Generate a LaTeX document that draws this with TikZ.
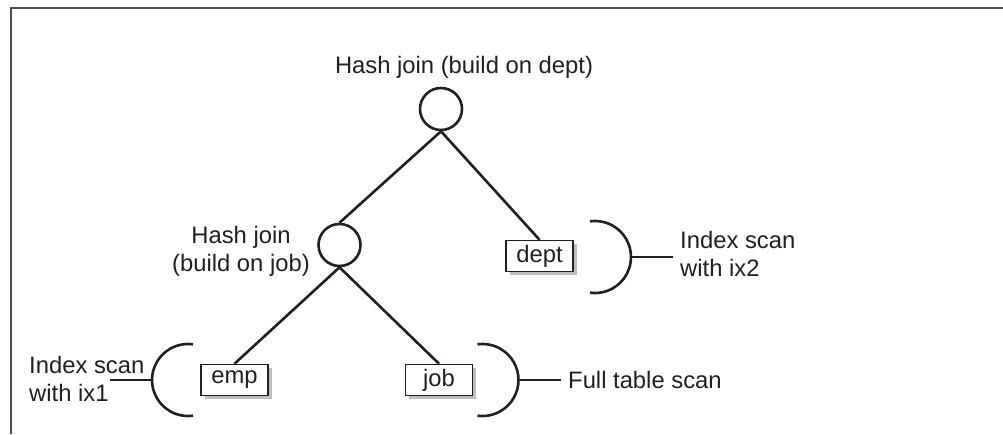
\documentclass[tikz,border=0pt]{standalone}
\usepackage{fontspec}
\setmainfont{Liberation Sans}
\usetikzlibrary{shadows}
\definecolor{ink}{RGB}{35,31,32}
\definecolor{shade}{RGB}{190,190,190}
\begin{document}
\begin{tikzpicture}[x=1pt,y=-1pt,
  lbl/.style={font=\fontsize{23.8}{28}\selectfont, text=ink, inner sep=0pt, align=left},
  clbl/.style={font=\fontsize{23.8}{28}\selectfont, text=ink, inner sep=0pt, align=center},
  joinnode/.style={circle, draw=ink, line width=2.6pt, minimum size=42pt, inner sep=0pt},
  tbl/.style={draw=ink, line width=1.5pt, fill=white, text=ink, font=\fontsize{23.8}{28}\selectfont,
    minimum width=67pt, minimum height=31pt, inner sep=0pt,
    drop shadow={shadow xshift=3.5pt, shadow yshift=-3.5pt, fill=shade, opacity=1}},
  treeedge/.style={draw=ink, line width=2.6pt},
  brk/.style={draw=ink, line width=2.6pt},
  framed/.style={draw=ink!80, line width=1.3pt}]
\useasboundingbox (0,0) rectangle (1003,434);
\draw[framed] (1003,8) -- (11,8) -- (11,434);

% join nodes
\node[joinnode] (j1) at (441,109) {};
\node[joinnode] (j2) at (339.5,245) {};
% tables
\node[tbl] (dept) at (539.5,256) {dept};
\node[tbl] (emp) at (234.5,380) {emp};
\node[tbl] (job) at (439,380) {job};

% labels
\node[clbl, anchor=base] (l1) at (464,73) {Hash join (build on dept)};
\node[clbl, anchor=north] (l2) at (241,226) {Hash join\\(build on job)};
\node[lbl, anchor=north west] (l3) at (680,231) {Index scan\\with ix2};
\node[lbl, anchor=north west] (l4) at (29,356) {Index scan\\with ix1};
\node[lbl, anchor=base west] (l5) at (568,388) {Full table scan};

% tree edges
\draw[treeedge] (j1.south) -- (j2.north);
\draw[treeedge] (j1.south) -- (dept.north);
\draw[treeedge] (j2.south) -- (emp.north);
\draw[treeedge] (j2.south) -- (job.north);

% brackets
\coordinate (bd) at (631,257);
\coordinate (bj) at (518.5,380);
\coordinate (be) at (152,380);
\draw[brk] (bd) arc[start angle=0, end angle=98, radius=36];
\draw[brk] (bd) arc[start angle=0, end angle=-98, radius=36];
\draw[brk] (bj) arc[start angle=0, end angle=98, radius=36];
\draw[brk] (bj) arc[start angle=0, end angle=-98, radius=36];
\draw[brk] (be) arc[start angle=180, end angle=82, radius=36];
\draw[brk] (be) arc[start angle=180, end angle=278, radius=36];

% stubs
\coordinate (sd) at (673,257);
\coordinate (sj) at (561,380);
\coordinate (se) at (110,380);
\draw[brk] (bd) -- (sd);
\draw[brk] (bj) -- (sj);
\draw[brk] (be) -- (se);
\end{tikzpicture}
\end{document}
